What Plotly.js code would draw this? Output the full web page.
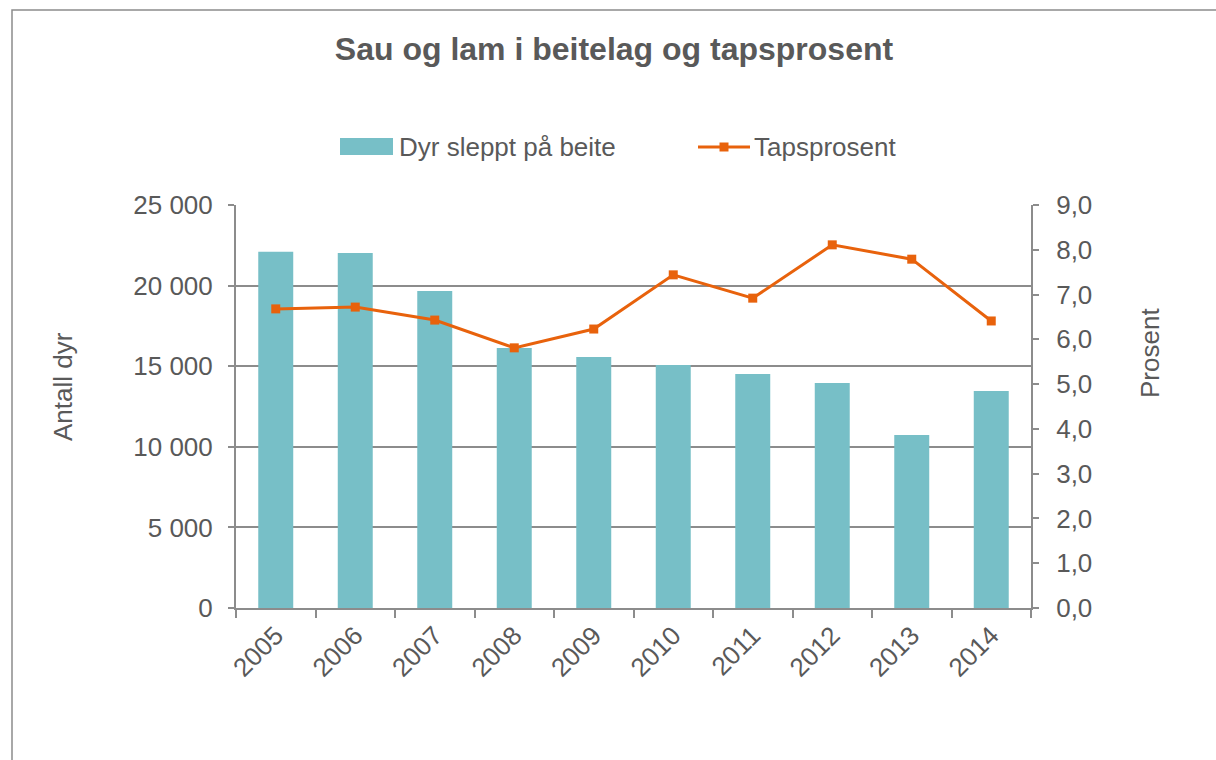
<!DOCTYPE html>
<html>
<head>
<meta charset="utf-8">
<script src="https://cdn.plot.ly/plotly-3.0.1.min.js"></script>
<style>
html,body{margin:0;padding:0;background:#fff;}
#chart{width:1216px;height:760px;}
</style>
</head>
<body>
<div id="chart"></div>
<script>
const years = ['2005','2006','2007','2008','2009','2010','2011','2012','2013','2014'];
const dyrSleppt = [22100, 22020, 19670, 16130, 15570, 15070, 14520, 13960, 10730, 13460];
const tapsprosent = [6.68, 6.72, 6.43, 5.81, 6.23, 7.44, 6.92, 8.11, 7.79, 6.41];
const seriesNames = ['Dyr sleppt på beite', 'Tapsprosent'];

const grey = '#595959';
const axisGrey = '#8c8c8c';
const barColor = '#77BFC7';
const lineColor = '#E8620C';

// plot area in pixels: left 236, right 1031, top 205, bottom 608
const PL = 236, PR = 1031, PT = 205, PB = 608;
const px = x => (x - PL) / (PR - PL);
const py = y => (PB - y) / (PB - PT);

const traces = [
  {
    type: 'bar', x: years, y: dyrSleppt, name: seriesNames[0],
    marker: {color: barColor}, yaxis: 'y', showlegend: false
  },
  {
    type: 'scatter', mode: 'lines+markers', x: years, y: tapsprosent, name: seriesNames[1],
    line: {color: lineColor, width: 3}, marker: {symbol: 'square', size: 9, color: lineColor},
    yaxis: 'y2', showlegend: false
  }
];

const legendY = 147;

const layout = {
  width: 1216, height: 760,
  separators: ', ',
  font: {family: 'Liberation Sans, Arial, sans-serif', color: grey, size: 26},
  paper_bgcolor: '#fff', plot_bgcolor: '#fff',
  margin: {l: PL, r: 1216 - PR, t: PT, b: 760 - PB},
  bargap: 0.56,
  showlegend: false,
  title: {text: '<b>Sau og lam i beitelag og tapsprosent</b>', font: {size: 32, color: grey},
          x: 614 / 1216, xanchor: 'center', y: 1 - 49 / 760, yanchor: 'middle'},
  xaxis: {
    type: 'category', range: [-0.5, years.length - 0.5], autorange: false,
    tickangle: -45, tickson: 'boundaries', ticks: 'outside', ticklen: 8,
    tickwidth: 2, tickcolor: axisGrey, showline: true, linecolor: axisGrey, linewidth: 2,
    showgrid: false, tickfont: {size: 26, color: grey}
  },
  yaxis: {
    range: [0, 25000], dtick: 5000, tickformat: ',d', ticks: 'outside', ticklen: 6,
    tickwidth: 2, tickcolor: axisGrey, showline: true, linecolor: axisGrey, linewidth: 2,
    showgrid: true, gridcolor: axisGrey, gridwidth: 2, zeroline: false,
    tickfont: {size: 26, color: grey}, ticklabelstandoff: 10
  },
  yaxis2: {
    overlaying: 'y', side: 'right', range: [0, 9], dtick: 1, tickformat: '.1f',
    ticks: 'outside', ticklen: 6, tickwidth: 2, tickcolor: axisGrey, showline: true,
    linecolor: axisGrey, linewidth: 2, showgrid: false, zeroline: false,
    tickfont: {size: 26, color: grey}, ticklabelstandoff: 12
  },
  annotations: [
    {text: 'Antall dyr', xref: 'paper', yref: 'paper', x: px(63), y: py(387),
     textangle: -90, showarrow: false, font: {size: 26, color: grey}, xanchor: 'center', yanchor: 'middle'},
    {text: 'Prosent', xref: 'paper', yref: 'paper', x: px(1150), y: py(353),
     textangle: -90, showarrow: false, font: {size: 26, color: grey}, xanchor: 'center', yanchor: 'middle'},
    {text: seriesNames[0], xref: 'paper', yref: 'paper', x: px(397), y: py(legendY),
     showarrow: false, font: {size: 26, color: grey}, xanchor: 'left', yanchor: 'middle'},
    {text: seriesNames[1], xref: 'paper', yref: 'paper', x: px(752), y: py(legendY),
     showarrow: false, font: {size: 26, color: grey}, xanchor: 'left', yanchor: 'middle'}
  ],
  shapes: [
    {type: 'rect', xref: 'paper', yref: 'paper', x0: px(12), x1: 1.5,
     y0: -0.6, y1: py(10), line: {color: '#8c8c8c', width: 1.5}, fillcolor: 'rgba(0,0,0,0)', layer: 'below'},
    // legend swatches
    {type: 'rect', xref: 'paper', yref: 'paper', x0: px(340), x1: px(393), y0: py(155), y1: py(138),
     line: {width: 0}, fillcolor: barColor},
    {type: 'line', xref: 'paper', yref: 'paper', x0: px(698), x1: px(750), y0: py(legendY), y1: py(legendY),
     line: {color: lineColor, width: 3}},
    {type: 'rect', xref: 'paper', yref: 'paper', x0: px(719.5), x1: px(728.5), y0: py(legendY + 4.5), y1: py(legendY - 4.5),
     line: {width: 0}, fillcolor: lineColor}
  ]
};

Plotly.newPlot('chart', traces, layout, {displayModeBar: false, staticPlot: true});
</script>
</body>
</html>
